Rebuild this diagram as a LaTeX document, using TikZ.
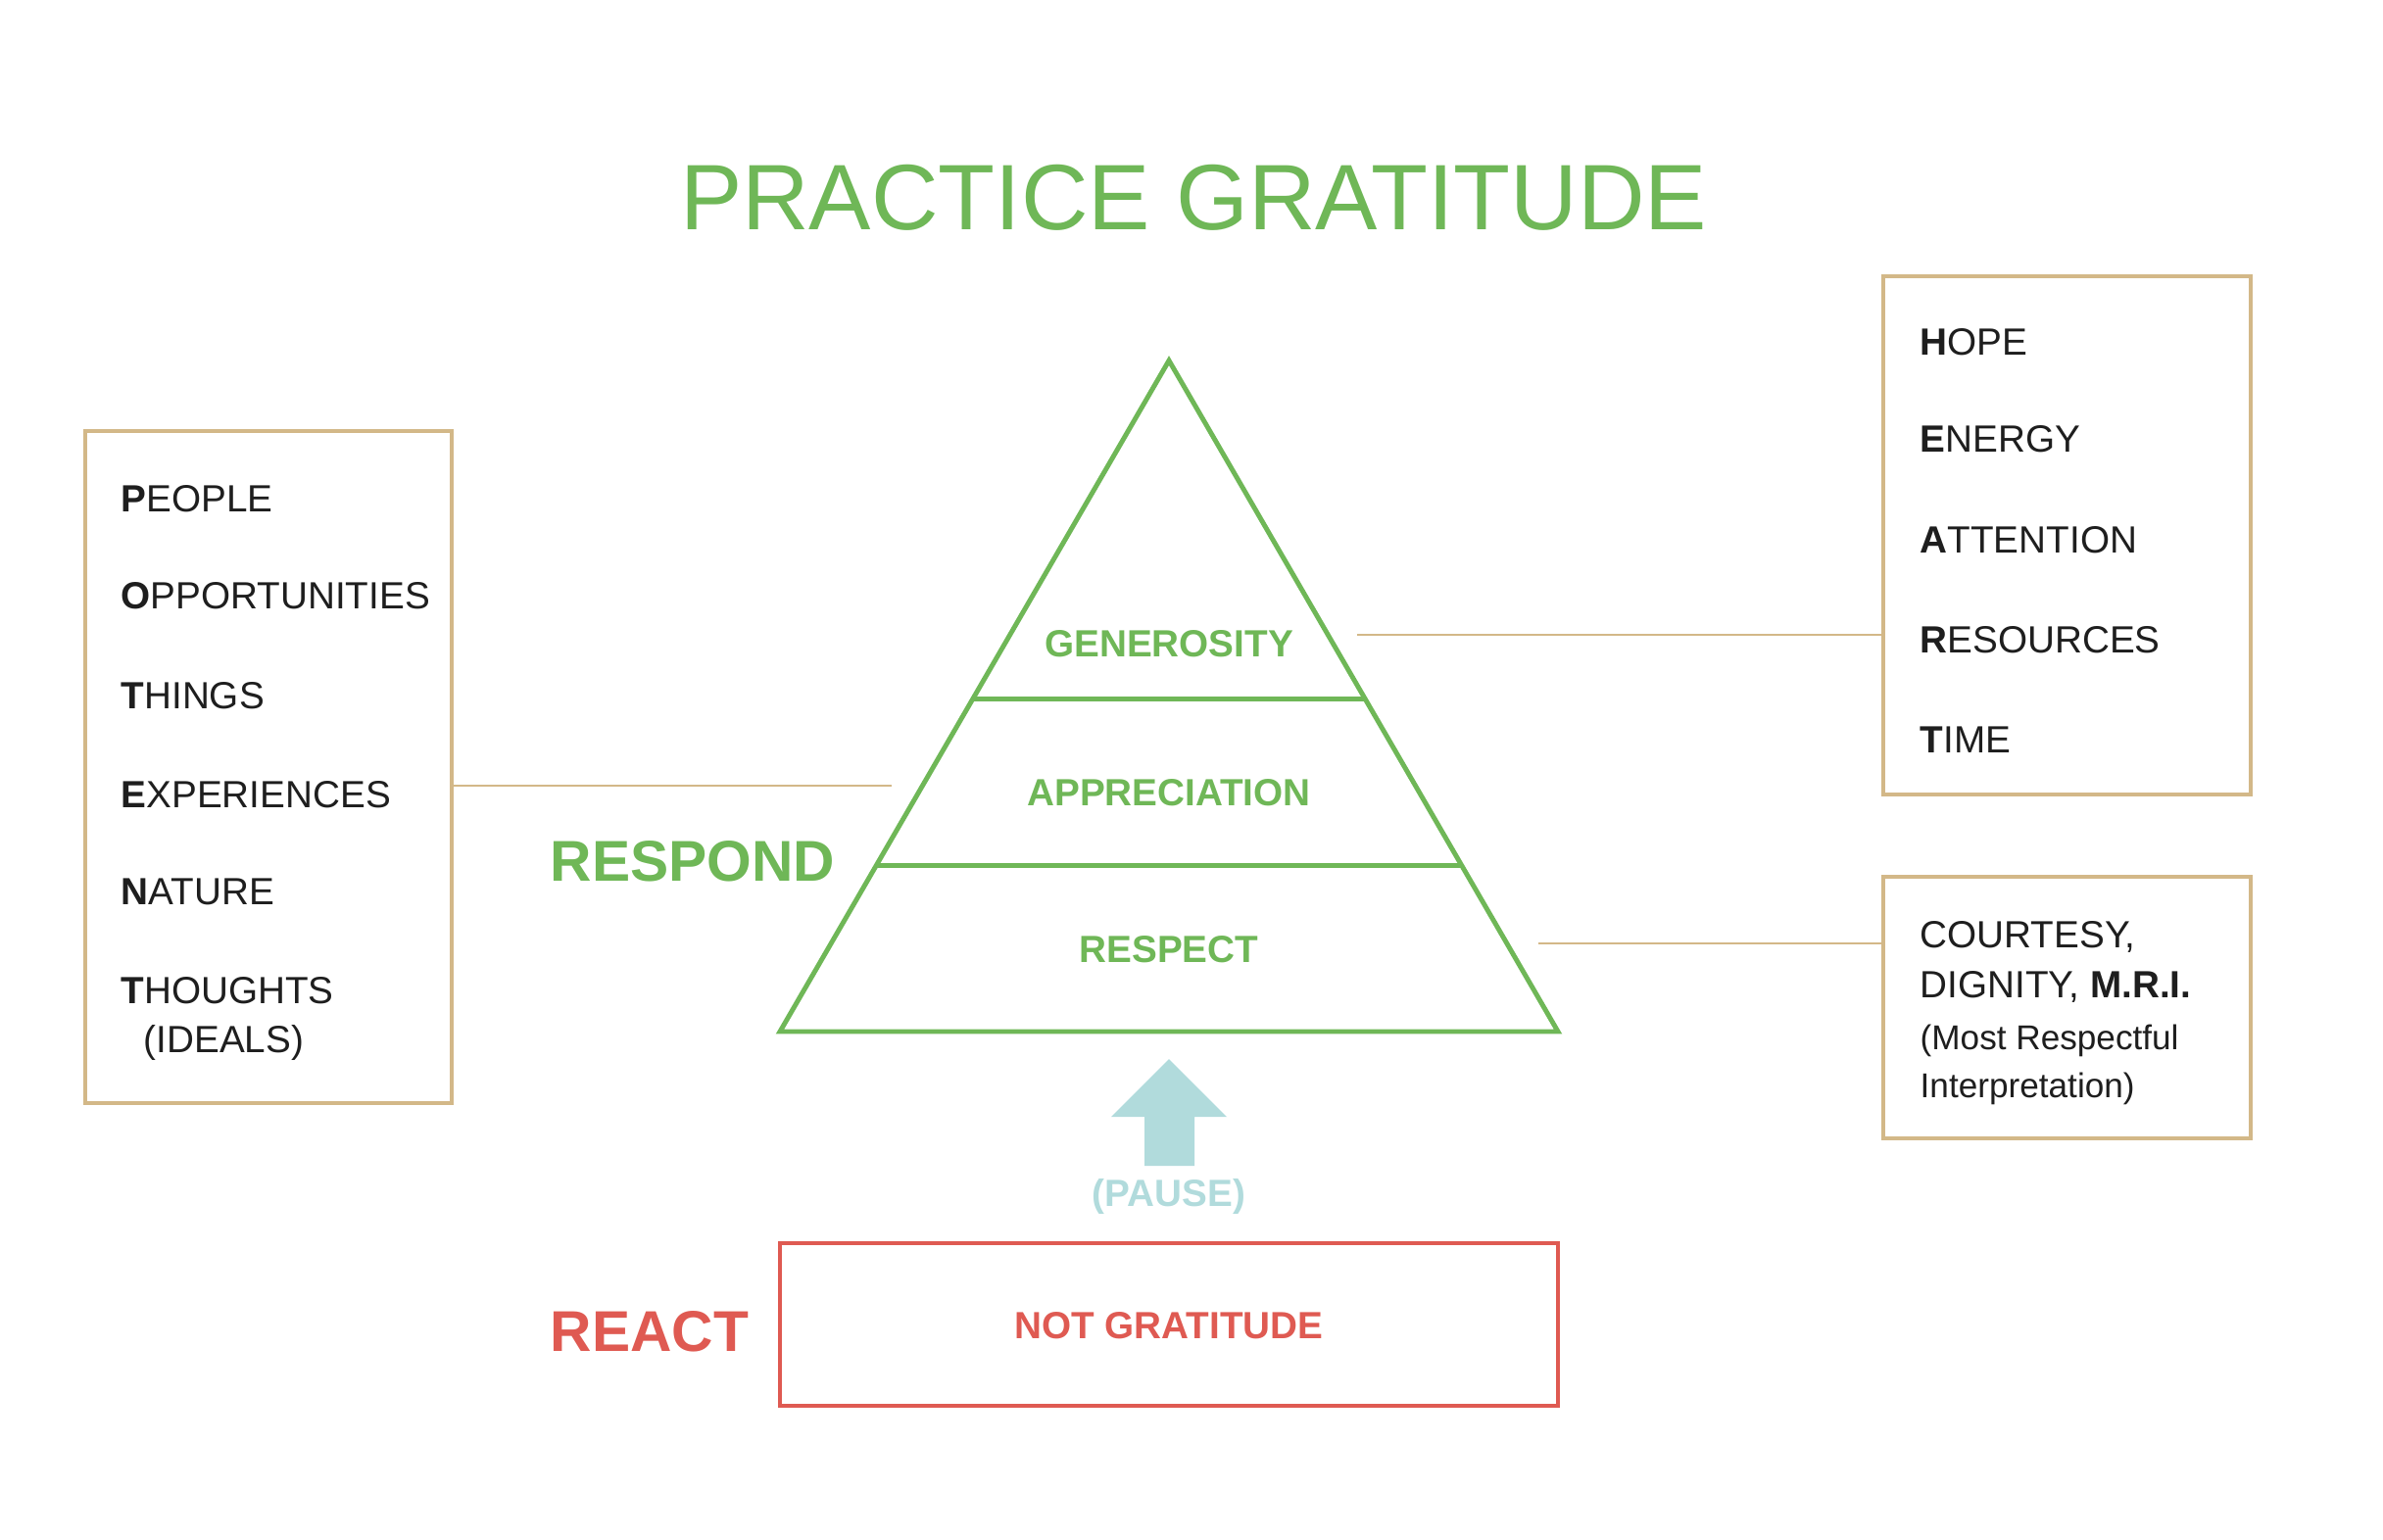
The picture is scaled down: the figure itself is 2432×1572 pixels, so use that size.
\documentclass[tikz,border=0pt]{standalone}
\usepackage{fontspec}
\setmainfont{Liberation Sans}
\usetikzlibrary{calc,fit}

\definecolor{leafgreen}{HTML}{6FB757}
\definecolor{alarmred}{HTML}{DF5A52}
\definecolor{sandtan}{HTML}{D3B888}
\definecolor{pausetea}{HTML}{B1DBDC}
\definecolor{ink}{HTML}{1E1E1E}

\begin{document}
\begin{tikzpicture}[x=0.01cm, y=-0.01cm,
  tri/.style={draw=leafgreen, line width=1.4pt},
  tanbox/.style={draw=sandtan, line width=0.9pt, inner sep=0pt},
  link/.style={draw=sandtan, line width=0.7pt},
  item/.style={anchor=west, inner sep=0pt, text height=7.9pt, text depth=0pt,
    font=\fontsize{11}{13}\selectfont, text=ink},
  level/.style={inner sep=0pt, text height=8pt, text depth=0pt,
    font=\fontsize{11}{13}\selectfont\bfseries, text=leafgreen},
  mode/.style={anchor=west, inner sep=0pt, font=\fontsize{16.7}{20}\selectfont\bfseries}]

\useasboundingbox (0,0) rectangle (2432,1572);

% Title
\node[text=leafgreen, font=\fontsize{27}{32}\selectfont] (title) at (1218,202) {PRACTICE GRATITUDE};

% Pyramid
\coordinate (apex) at (1193,368);
\coordinate (baseL) at (796,1053);
\coordinate (baseR) at (1590,1053);
\draw[tri] (apex) -- (baseL) -- (baseR) -- cycle;
\draw[tri] ($(apex)!0.504!(baseL)$) -- ($(apex)!0.504!(baseR)$);
\draw[tri] ($(apex)!0.753!(baseL)$) -- ($(apex)!0.753!(baseR)$);
\node[level] (gen) at (1193,656) {GENEROSITY};
\node[level] (appr) at (1193,808) {APPRECIATION};
\node[level] (resp) at (1193,968) {RESPECT};

\node[mode, text=leafgreen] (respond) at (561,879) {RESPOND};
\node[mode, text=alarmred] (react) at (561,1359) {REACT};

% Left box
\node[tanbox, fit={(87,440) (461,1126)}] (objbox) {};
\foreach \first/\rest/\y in {P/EOPLE/509, O/PPORTUNITIES/608, T/HINGS/710,
    E/XPERIENCES/811, N/ATURE/910, T/HOUGHTS/1011}
  \node[item] at (123,\y) {\textbf{\first}\rest};
\node[item] (ideals) at (146,1061) {(IDEALS)};
\coordinate (objtip) at (910,802);
\draw[link] (objbox.east |- objtip) -- (objtip);

% Right top box
\node[tanbox, fit={(1922,282) (2297,811)}] (givebox) {};
\foreach \first/\rest/\y in {H/OPE/349, E/NERGY/448, A/TTENTION/551,
    R/ESOURCES/653, T/IME/755}
  \node[item] at (1959,\y) {\textbf{\first}\rest};
\coordinate (gentip) at (1385,648);
\draw[link] (gentip) -- (gentip -| givebox.west);

% Right bottom box
\node[tanbox, fit={(1922,895) (2297,1162)}] (mribox) {};
\node[item] (court) at (1959,954) {COURTESY,};
\node[item] (dign) at (1959,1005) {DIGNITY, \textbf{M.R.I.}};
\node[item, font=\fontsize{10}{12}\selectfont] (most) at (1959,1058) {(Most Respectful};
\node[item, font=\fontsize{10}{12}\selectfont] (interp) at (1959,1107) {Interpretation)};
\coordinate (resptip) at (1570,963);
\draw[link] (resptip) -- (resptip -| mribox.west);

% Pause arrow
\fill[pausetea] (1168,1190) -- (1168,1140) -- (1134,1140) -- (1193,1081)
  -- (1252,1140) -- (1219,1140) -- (1219,1190) -- cycle;
\node[inner sep=0pt, text=pausetea, font=\fontsize{11}{13}\selectfont\bfseries] (pause) at (1193,1221) {(PAUSE)};

% Not gratitude
\node[tanbox, draw=alarmred, line width=1.4pt, fit={(796,1269) (1590,1435)}] (notbox) {};
\node[level, text=alarmred] (notlabel) at (notbox.center) {NOT GRATITUDE};

\end{tikzpicture}
\end{document}
